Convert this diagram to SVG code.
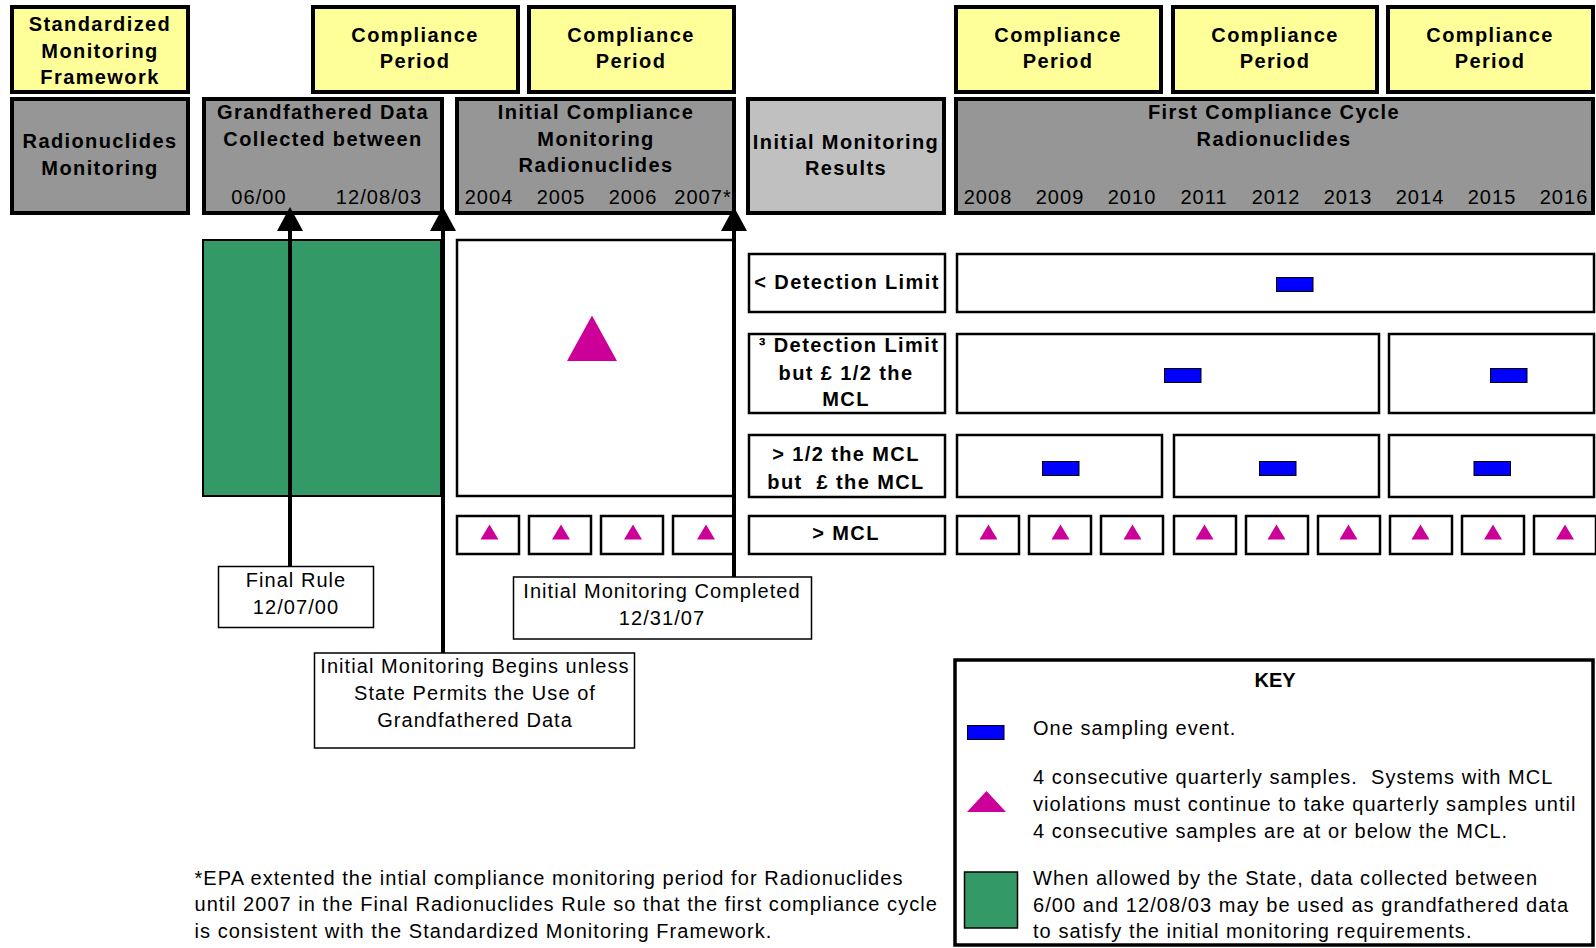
<svg xmlns="http://www.w3.org/2000/svg" width="1596" height="948" viewBox="0 0 1596 948">
<style>
.hdr{stroke:#000;stroke-width:4}
.yel{fill:#FFFF99}
.gry{fill:#969696}
.lgry{fill:#C0C0C0}
.box{fill:#fff;stroke:#000;stroke-width:2.5}
.lbl{fill:#fff;stroke:#000;stroke-width:1.5}
.blue{fill:#0000FF;stroke:#000;stroke-width:1}
.tri{fill:#CC0099}
.b{font-family:"Liberation Sans",Arial,sans-serif;font-weight:bold;font-size:20px;letter-spacing:1.4px;fill:#000;text-anchor:middle}
.r{font-family:"Liberation Sans",Arial,sans-serif;font-size:20px;letter-spacing:1.05px;fill:#000}
.m{text-anchor:middle}
.conn{stroke:#000;stroke-width:4;fill:none}
</style>
<defs>
<marker id="ah" markerUnits="userSpaceOnUse" viewBox="0 0 24 26" markerWidth="24" markerHeight="26" refX="12" refY="13" orient="auto">
<path d="M0,0 L24,13 L0,26 z" fill="#000"/>
</marker>
<path id="stri" d="M-9,7.5 L0,-7.5 L9,7.5 z"/>
</defs>
<rect width="1596" height="948" fill="#fff"/>

<g id="smf">
<rect class="hdr yel" x="12" y="7" width="176" height="85"/>
<text class="b" x="100" y="30.5">Standardized</text>
<text class="b" x="100" y="57.5">Monitoring</text>
<text class="b" x="100" y="84">Framework</text>
</g>
<g id="cp1">
<rect class="hdr yel" x="313" y="7" width="205" height="85"/>
<text class="b" x="415" y="41.5">Compliance</text>
<text class="b" x="415" y="68">Period</text>
</g>
<g id="cp2">
<rect class="hdr yel" x="529" y="7" width="205" height="85"/>
<text class="b" x="631" y="41.5">Compliance</text>
<text class="b" x="631" y="68">Period</text>
</g>
<g id="cp3">
<rect class="hdr yel" x="956" y="7" width="205" height="85"/>
<text class="b" x="1058" y="41.5">Compliance</text>
<text class="b" x="1058" y="68">Period</text>
</g>
<g id="cp4">
<rect class="hdr yel" x="1173" y="7" width="204" height="85"/>
<text class="b" x="1275" y="41.5">Compliance</text>
<text class="b" x="1275" y="68">Period</text>
</g>
<g id="cp5">
<rect class="hdr yel" x="1388" y="7" width="205" height="85"/>
<text class="b" x="1490" y="41.5">Compliance</text>
<text class="b" x="1490" y="68">Period</text>
</g>

<g id="radmon">
<rect class="hdr gry" x="12" y="99" width="176" height="114"/>
<text class="b" x="100" y="147.5">Radionuclides</text>
<text class="b" x="100" y="174.5">Monitoring</text>
</g>
<g id="grandfathered">
<rect class="hdr gry" x="204" y="99" width="238" height="114"/>
<text class="b" x="323" y="119">Grandfathered Data</text>
<text class="b" x="323" y="145.5">Collected between</text>
<text class="r m" x="259" y="203.5">06/00</text>
<text class="r m" x="379" y="203.5">12/08/03</text>
</g>
<g id="initial-compliance">
<rect class="hdr gry" x="457" y="99" width="277" height="114"/>
<text class="b" x="596" y="119">Initial Compliance</text>
<text class="b" x="596" y="145.5">Monitoring</text>
<text class="b" x="596" y="172">Radionuclides</text>
<text class="r m" x="489" y="203.5">2004</text>
<text class="r m" x="561" y="203.5">2005</text>
<text class="r m" x="633" y="203.5">2006</text>
<text class="r m" x="703" y="203.5">2007*</text>
</g>
<g id="initial-results">
<rect class="hdr lgry" x="748" y="99" width="196" height="114"/>
<text class="b" x="846" y="148.5">Initial Monitoring</text>
<text class="b" x="846" y="175">Results</text>
</g>
<g id="first-cycle">
<rect class="hdr gry" x="956" y="99" width="637" height="114"/>
<text class="b" x="1274" y="119">First Compliance Cycle</text>
<text class="b" x="1274" y="145.5">Radionuclides</text>
<text class="r m" x="988" y="203.5">2008</text>
<text class="r m" x="1060" y="203.5">2009</text>
<text class="r m" x="1132" y="203.5">2010</text>
<text class="r m" x="1204" y="203.5">2011</text>
<text class="r m" x="1276" y="203.5">2012</text>
<text class="r m" x="1348" y="203.5">2013</text>
<text class="r m" x="1420" y="203.5">2014</text>
<text class="r m" x="1492" y="203.5">2015</text>
<text class="r m" x="1564" y="203.5">2016</text>
</g>

<g id="grandfathered-data">
<rect x="203" y="240" width="238" height="256" fill="#339966" stroke="#000" stroke-width="2"/>
</g>
<g id="initial-period">
<rect class="box" x="457" y="240" width="277" height="256"/>
<polygon class="tri" points="567,361 592,315.5 617,361"/>
<rect class="box" x="457" y="516" width="62" height="38"/>
<rect class="box" x="529" y="516" width="62" height="38"/>
<rect class="box" x="601" y="516" width="62" height="38"/>
<rect class="box" x="673" y="516" width="61" height="38"/>
<use href="#stri" class="tri" x="489.5" y="532"/>
<use href="#stri" class="tri" x="561" y="532"/>
<use href="#stri" class="tri" x="633" y="532"/>
<use href="#stri" class="tri" x="706" y="532"/>
</g>

<g id="row-below-dl">
<rect class="box" x="749" y="254" width="196" height="58"/>
<text class="b" x="847" y="289">&lt; Detection Limit</text>
<rect class="box" x="957" y="254" width="637" height="58"/>
<rect class="blue" x="1276.5" y="277.5" width="36.5" height="14"/>
</g>
<g id="row-dl-half">
<rect class="box" x="749" y="334" width="196" height="79"/>
<text class="b" x="849" y="352">³ Detection Limit</text>
<text class="b" x="846" y="379.5">but £ 1/2 the</text>
<text class="b" x="846" y="406">MCL</text>
<rect class="box" x="957" y="334" width="422" height="79"/>
<rect class="box" x="1389" y="334" width="205" height="79"/>
<rect class="blue" x="1164.5" y="368.5" width="36.5" height="14"/>
<rect class="blue" x="1490.5" y="368.5" width="36.5" height="14"/>
</g>
<g id="row-half-mcl">
<rect class="box" x="749" y="435" width="196" height="62"/>
<text class="b" x="846" y="461">&gt; 1/2 the MCL</text>
<text class="b" x="846" y="488.5">but&#160; £ the MCL</text>
<rect class="box" x="957" y="435" width="205" height="62"/>
<rect class="box" x="1174" y="435" width="205" height="62"/>
<rect class="box" x="1389" y="435" width="205" height="62"/>
<rect class="blue" x="1042.5" y="461.5" width="36.5" height="14"/>
<rect class="blue" x="1259.5" y="461.5" width="36.5" height="14"/>
<rect class="blue" x="1474" y="461.5" width="36.5" height="14"/>
</g>
<g id="row-mcl">
<rect class="box" x="749" y="516" width="196" height="38"/>
<text class="b" x="846" y="540">&gt; MCL</text>
<rect class="box" x="957" y="516" width="62" height="38"/>
<rect class="box" x="1029" y="516" width="62" height="38"/>
<rect class="box" x="1101" y="516" width="62" height="38"/>
<rect class="box" x="1174" y="516" width="62" height="38"/>
<rect class="box" x="1246" y="516" width="62" height="38"/>
<rect class="box" x="1318" y="516" width="62" height="38"/>
<rect class="box" x="1390" y="516" width="62" height="38"/>
<rect class="box" x="1462" y="516" width="62" height="38"/>
<rect class="box" x="1534" y="516" width="62" height="38"/>
<use href="#stri" class="tri" x="988.5" y="532"/>
<use href="#stri" class="tri" x="1060.5" y="532"/>
<use href="#stri" class="tri" x="1132.5" y="532"/>
<use href="#stri" class="tri" x="1204.5" y="532"/>
<use href="#stri" class="tri" x="1276.5" y="532"/>
<use href="#stri" class="tri" x="1348.5" y="532"/>
<use href="#stri" class="tri" x="1420.5" y="532"/>
<use href="#stri" class="tri" x="1493" y="532"/>
<use href="#stri" class="tri" x="1565" y="532"/>
</g>

<g id="final-rule">
<rect class="lbl" x="218.5" y="566.5" width="155" height="61"/>
<text class="r m" x="296" y="586.5">Final Rule</text>
<text class="r m" x="296" y="613.5">12/07/00</text>
</g>
<g id="monitoring-begins">
<rect class="lbl" x="314.5" y="653" width="320" height="95"/>
<text class="r m" x="475" y="673">Initial Monitoring Begins unless</text>
<text class="r m" x="475" y="700">State Permits the Use of</text>
<text class="r m" x="475" y="727">Grandfathered Data</text>
</g>
<g id="monitoring-completed">
<rect class="lbl" x="513.5" y="577" width="298" height="62"/>
<text class="r m" x="662" y="598">Initial Monitoring Completed</text>
<text class="r m" x="662" y="625">12/31/07</text>
</g>

<g id="connectors">
<line class="conn" x1="290" y1="566" x2="290" y2="219" marker-end="url(#ah)"/>
<line class="conn" x1="443" y1="653" x2="443" y2="219" marker-end="url(#ah)"/>
<line class="conn" x1="734" y1="577" x2="734" y2="219" marker-end="url(#ah)"/>
</g>

<g id="key">
<rect x="955" y="660" width="638" height="285" fill="#fff" stroke="#000" stroke-width="3.5"/>
<text class="b" x="1275" y="687" style="letter-spacing:0">KEY</text>
<rect class="blue" x="967.5" y="725.5" width="36.5" height="14"/>
<text class="r" x="1033" y="735">One sampling event.</text>
<polygon class="tri" points="967,812 986.5,791 1006,812"/>
<text class="r" x="1033" y="784">4 consecutive quarterly samples.&#160; Systems with MCL</text>
<text class="r" x="1033" y="811">violations must continue to take quarterly samples until</text>
<text class="r" x="1033" y="838">4 consecutive samples are at or below the MCL.</text>
<rect x="964.5" y="872" width="53" height="56" fill="#339966" stroke="#000" stroke-width="1.5"/>
<text class="r" x="1033" y="885">When allowed by the State, data collected between</text>
<text class="r" x="1033" y="912">6/00 and 12/08/03 may be used as grandfathered data</text>
<text class="r" x="1033" y="938">to satisfy the initial monitoring requirements.</text>
</g>

<g id="footnote">
<text class="r" x="194.5" y="885">*EPA extented the intial compliance monitoring period for Radionuclides</text>
<text class="r" x="194.5" y="911">until 2007 in the Final Radionuclides Rule so that the first compliance cycle</text>
<text class="r" x="194.5" y="938">is consistent with the Standardized Monitoring Framework.</text>
</g>
</svg>
